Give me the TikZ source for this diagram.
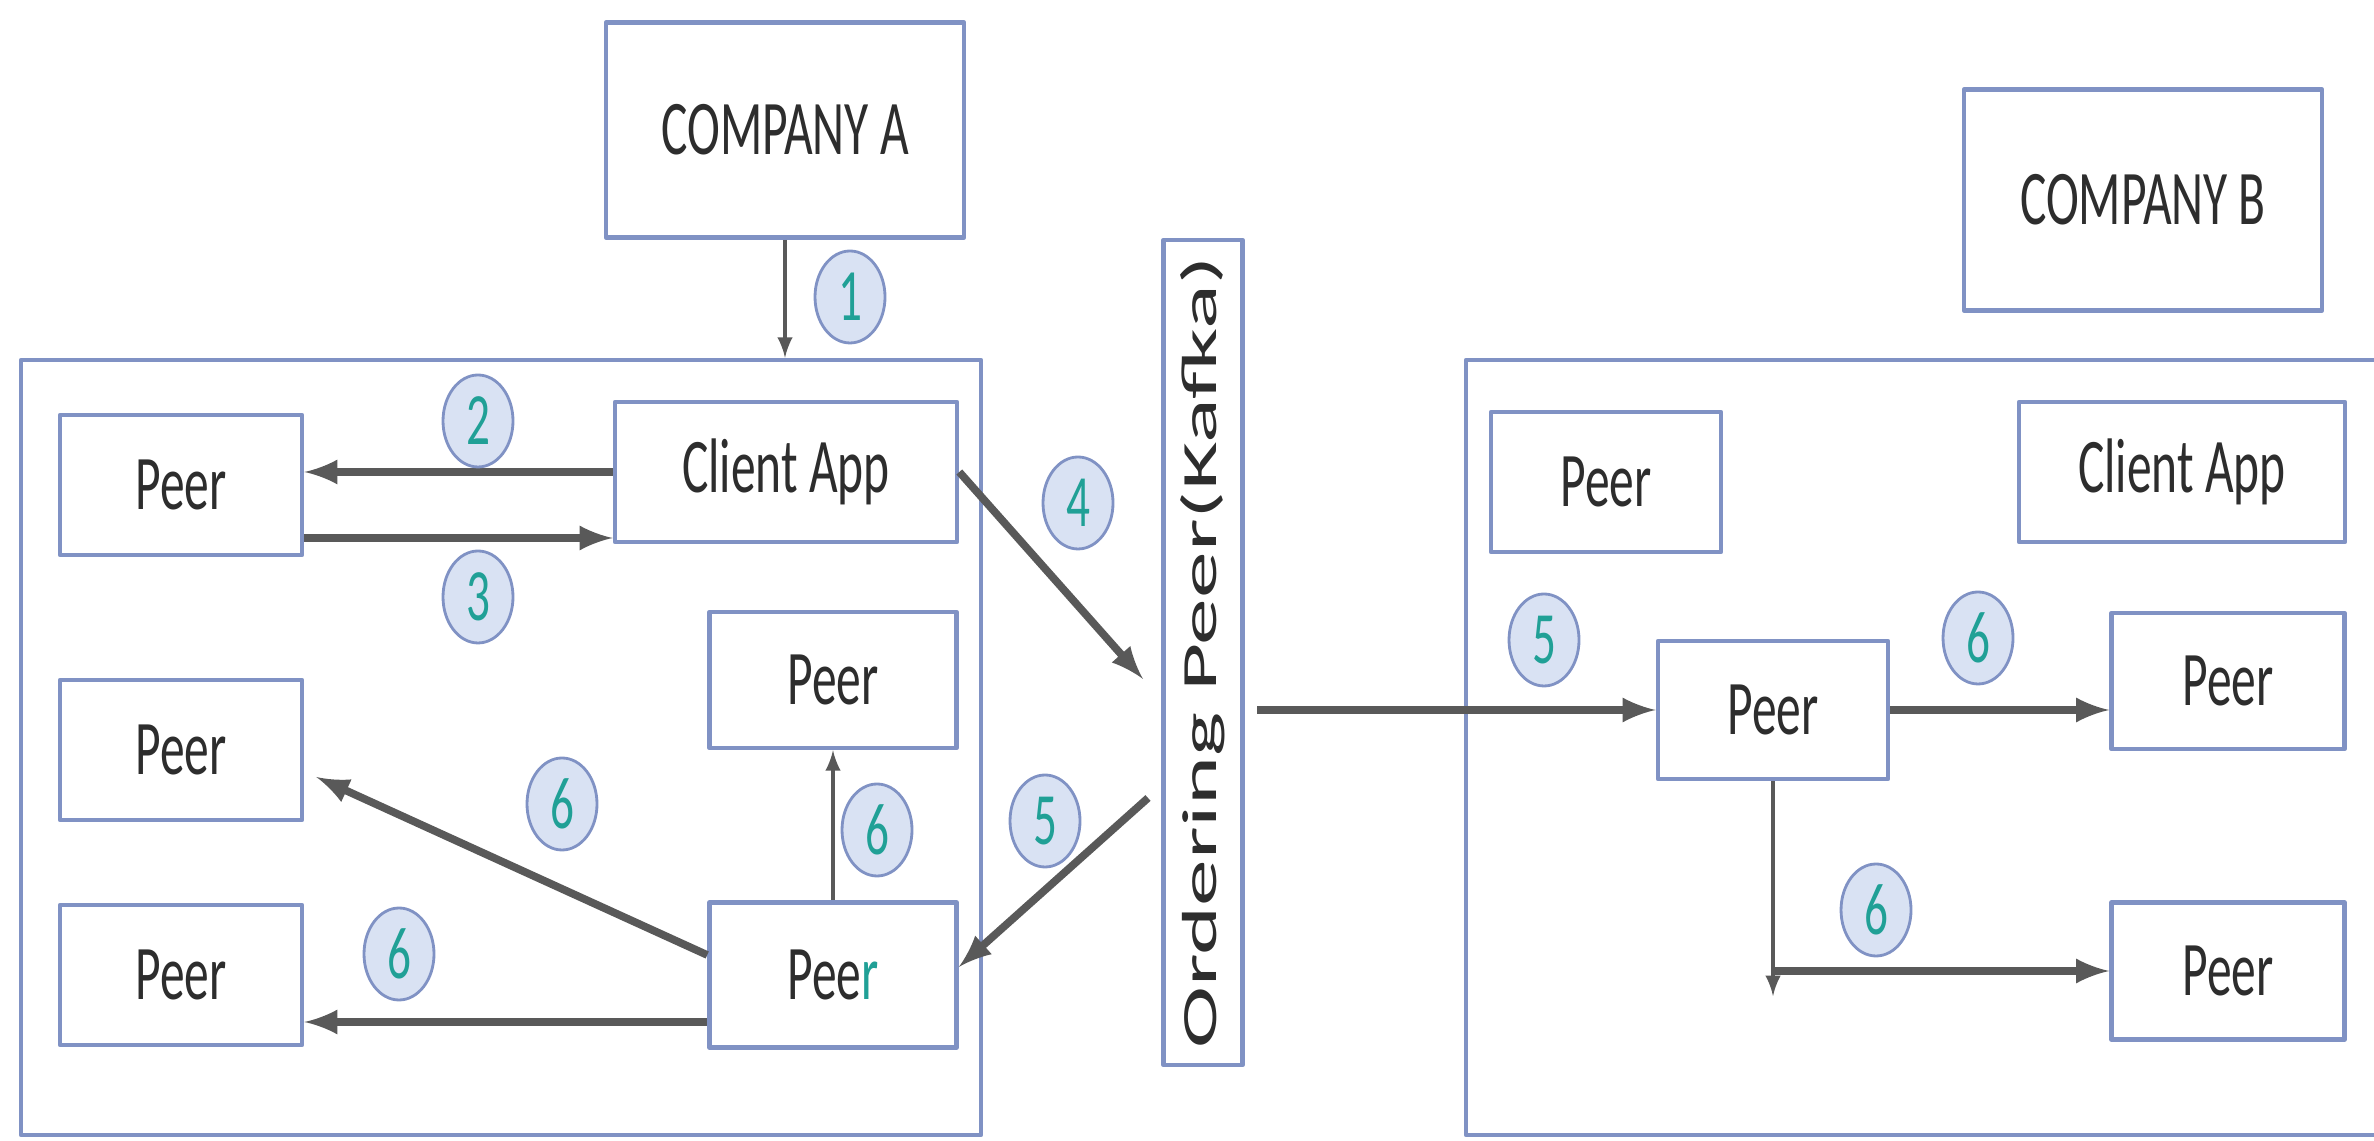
\documentclass[tikz,border=0pt]{standalone}
\usepackage{fontspec}
\setmainfont{Carlito}[FakeStretch=0.64]
\newfontfamily\vertfont{Carlito}[FakeStretch=1.9]
\usetikzlibrary{arrows,positioning,calc,shapes}
\definecolor{boxline}{RGB}{128,146,196}
\definecolor{arrowgray}{RGB}{89,89,89}
\definecolor{numfill}{RGB}{217,226,243}
\definecolor{numteal}{RGB}{32,160,150}
\definecolor{txtgray}{RGB}{45,45,45}
\newcommand \mystep[3]
{
\node[num] (#1) at (#2) {#3};
}

\begin{document}
\begin{tikzpicture}[>=latex, line join=round,
  box/.style={draw=boxline, line width=1.3pt, fill=white, text=txtgray, inner sep=0pt,
    font=\fontsize{22}{26}\selectfont},
  peer/.style={box, minimum width=2.42cm, minimum height=1.4cm},
  num/.style={ellipse, draw=boxline, line width=0.8pt, fill=numfill, text=numteal,
    minimum width=0.7cm, minimum height=0.92cm, inner sep=0pt, font=\fontsize{21}{25}\selectfont},
  bigarrow/.style={->, draw=arrowgray, line width=2.2pt},
  smallarrow/.style={->, draw=arrowgray, line width=1pt}]
\useasboundingbox (0,0) rectangle (23.74,11.41);
% outer boxes
\node[draw=boxline, line width=1.3pt, minimum width=9.6cm, minimum height=7.75cm] (boxA) at (5.01,3.935) {};
\node[draw=boxline, line width=1.3pt, minimum width=9.2cm, minimum height=7.75cm] (boxB) at (19.26,3.935) {};
% company A side
\node[box, minimum width=3.58cm, minimum height=2.15cm] (ca) at (7.85,10.11) {COMPANY A};
\node[box, minimum width=3.42cm, minimum height=1.4cm] (cla) at (7.86,6.69) {Client App};
\node[peer] (ptl) at (1.81,6.56) {Peer};
\node[peer] (plm) at (1.81,3.91) {Peer};
\node[peer] (plb) at (1.81,1.66) {Peer};
\node[peer, minimum width=2.47cm, minimum height=1.36cm] (pm) at (8.33,4.61) {Peer};
\node[peer, minimum width=2.47cm, minimum height=1.45cm] (pb) at (8.33,1.66) {Pee\textcolor{numteal}{r}};
% ordering service
\node[box, minimum width=0.79cm, minimum height=8.25cm] (op) at (12.03,4.885) {};
\node[rotate=90, text=txtgray, font=\vertfont\fontsize{14}{16}\selectfont] (optext) at (op.center) {Ordering Peer(Kafka)};
% company B side
\node[box, minimum width=3.58cm, minimum height=2.21cm] (cb) at (21.43,9.41) {COMPANY B};
\node[box, minimum width=3.26cm, minimum height=1.4cm] (clb) at (21.82,6.69) {Client App};
\node[peer, minimum width=2.3cm] (pbt) at (16.06,6.59) {Peer};
\node[peer, minimum width=2.3cm, minimum height=1.38cm] (pc) at (17.73,4.31) {Peer};
\node[peer, minimum width=2.33cm, minimum height=1.36cm] (prt) at (22.28,4.6) {Peer};
\node[peer, minimum width=2.33cm, minimum height=1.37cm] (prb) at (22.28,1.7) {Peer};
% free ends
\coordinate (a3) at ([yshift=-5.3mm]ptl.east);
\coordinate (o4) at (11.43,4.62);
\coordinate (o5l) at (11.48,3.43);
\coordinate (o5r) at (12.57,4.31);
\coordinate (d6s) at ([yshift=2mm]pb.west);
\coordinate (d6e) at ([xshift=1.2mm,yshift=-2.7mm]plm.east);
\coordinate (h6s) at ([yshift=-4.7mm]pb.west);
\coordinate (k6) at (pc.south |- prb.west);
\coordinate (k6e) at ([yshift=-2.5mm]k6);
% arrows
\draw[smallarrow] (ca.south) -- (ca.south |- boxA.north);
\draw[bigarrow] (cla.west) -- (cla.west -| ptl.east);
\draw[bigarrow] (a3) -- (a3 -| cla.west);
\draw[bigarrow] (cla.east) -- (o4);
\draw[bigarrow] (o5l) -- ([yshift=0.8mm]pb.east);
\draw[bigarrow] (d6s) -- (d6e);
\draw[bigarrow] (h6s) -- (h6s -| plb.east);
\draw[smallarrow] (pb.north) -- (pm.south);
\draw[bigarrow] (o5r) -- (pc.west);
\draw[bigarrow] (pc.east) -- (pc.east -| prt.west);
\draw[smallarrow] (pc.south) -- (k6e);
\draw[bigarrow] (k6) -- (prb.west);
% step numbers
\mystep{n1}{8.50,8.44}{1}
\mystep{n2}{4.78,7.20}{2}
\mystep{n3}{4.78,5.44}{3}
\mystep{n4}{10.78,6.38}{4}
\mystep{n5a}{10.45,3.20}{5}
\mystep{n6a}{5.62,3.37}{6}
\mystep{n6b}{8.77,3.11}{6}
\mystep{n6c}{3.99,1.87}{6}
\mystep{n5b}{15.44,5.01}{5}
\mystep{n6d}{19.78,5.03}{6}
\mystep{n6e}{18.76,2.31}{6}
\end{tikzpicture}
\end{document}
